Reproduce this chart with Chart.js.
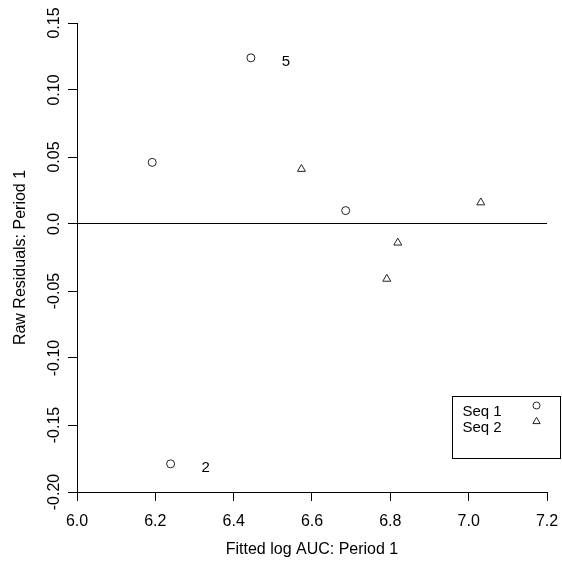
<!DOCTYPE html>
<html>
<head>
<meta charset="utf-8">
<script src="https://cdn.jsdelivr.net/npm/chart.js@4.4.0/dist/chart.umd.min.js"></script>
<style>
  html, body { margin: 0; padding: 0; background: #fff; }
  #wrap { width: 562px; height: 572px; }
</style>
</head>
<body>
<div id="wrap"><canvas id="chart" width="562" height="572"></canvas></div>
<script>
// Sequence 1 (circles)
const seq1X = [6.192, 6.239, 6.444, 6.686];
const seq1Y = [0.046, -0.179, 0.124, 0.010];
const seq1Labels = ["", "2", "5", ""];
// Sequence 2 (triangles)
const seq2X = [6.573, 6.791, 6.819, 7.031];
const seq2Y = [0.041, -0.041, -0.014, 0.016];

// horizontal reference line
const refLineY = 0;

const xTickValues = [6.0, 6.2, 6.4, 6.6, 6.8, 7.0, 7.2];
const xTickLabels = ["6.0", "6.2", "6.4", "6.6", "6.8", "7.0", "7.2"];
const yTickValues = [-0.20, -0.15, -0.10, -0.05, 0, 0.05, 0.10, 0.15];
const yTickLabels = ["-0.20", "-0.15", "-0.10", "-0.05", "0.0", "0.05", "0.10", "0.15"];

const legendLabels = ["Seq 1", "Seq 2"];
const legendStyles = ["circle", "triangle"];

const FONT = "'Liberation Sans', Arial, Helvetica, sans-serif";
const INK = "#222";

const toPoints = (xs, ys) => xs.map((x, i) => ({ x: x, y: ys[i] }));

// labels next to selected points ("2", "5")
const pointLabelPlugin = {
  id: "pointLabelPlugin",
  afterDatasetsDraw: (chart) => {
    const ctx = chart.ctx;
    const meta = chart.getDatasetMeta(0);
    ctx.save();
    ctx.font = "15px " + FONT;
    ctx.fillStyle = "#000";
    ctx.textAlign = "center";
    ctx.textBaseline = "middle";
    seq1Labels.forEach((lab, i) => {
      if (!lab) return;
      const el = meta.data[i];
      ctx.fillText(lab, el.x + 35, el.y + 4);
    });
    ctx.restore();
  },
};

// boxed legend: text left, symbol right
const boxLegendPlugin = {
  id: "boxLegendPlugin",
  afterDraw: (chart) => {
    const ctx = chart.ctx;
    const area = chart.chartArea;
    const boxX = Math.round(area.right) - 94.5;
    const boxY = 396.5;
    const boxW = 108;
    const boxH = 62;
    ctx.save();
    ctx.strokeStyle = "#000";
    ctx.lineWidth = 1;
    ctx.strokeRect(boxX, boxY, boxW, boxH);
    ctx.font = "15px " + FONT;
    ctx.textAlign = "left";
    ctx.textBaseline = "middle";
    legendLabels.forEach((lab, i) => {
      const ty = boxY + 15 + i * 16;
      ctx.fillStyle = "#000";
      ctx.fillText(lab, boxX + 10, ty);
      ctx.fillStyle = "rgba(0,0,0,0)";
      ctx.strokeStyle = INK;
      Chart.helpers.drawPoint(
        ctx,
        {
          pointStyle: legendStyles[i],
          radius: legendStyles[i] === "circle" ? 3.5 : 4.2,
          rotation: 0,
          borderWidth: 1,
        },
        boxX + 84,
        ty - 6
      );
    });
    ctx.restore();
  },
};

const ctx = document.getElementById("chart").getContext("2d");

new Chart(ctx, {
  data: {
    datasets: [
      {
        type: "scatter",
        data: toPoints(seq1X, seq1Y),
        pointStyle: "circle",
        pointRadius: 4,
        borderWidth: 1,
        borderColor: INK,
        backgroundColor: "rgba(0,0,0,0)",
      },
      {
        type: "scatter",
        data: toPoints(seq2X, seq2Y),
        pointStyle: "triangle",
        pointRadius: 4.6,
        borderWidth: 1,
        borderColor: INK,
        backgroundColor: "rgba(0,0,0,0)",
      },
    ],
  },
  options: {
    responsive: false,
    animation: false,
    devicePixelRatio: 1,
    layout: { padding: { left: 0, right: 15, top: 23, bottom: 0 } },
    plugins: {
      legend: { display: false },
      tooltip: { enabled: false },
    },
    scales: {
      x: {
        type: "linear",
        position: "bottom",
        min: 6.0,
        max: 7.2,
        afterBuildTicks: (scale) => {
          scale.ticks = xTickValues.map((v) => ({ value: v }));
        },
        afterFit: (scale) => {
          scale.height = 80;
          scale.paddingLeft = 0;
          scale.paddingRight = 0;
        },
        grid: {
          display: true,
          drawOnChartArea: false,
          drawTicks: true,
          tickLength: 9,
          color: "#000",
          lineWidth: 1,
        },
        border: { display: true, color: "#000", width: 1 },
        ticks: {
          color: "#000",
          font: { family: FONT, size: 16 },
          padding: 11,
          maxRotation: 0,
          autoSkip: false,
          callback: (value, index) => xTickLabels[index],
        },
        title: {
          display: true,
          text: "Fitted log AUC: Period 1",
          color: "#000",
          font: { family: FONT, size: 16 },
          padding: { top: 0, bottom: 13 },
        },
      },
      y: {
        type: "linear",
        position: "left",
        min: -0.2,
        max: 0.15,
        afterBuildTicks: (scale) => {
          scale.ticks = yTickValues.map((v) => ({ value: v }));
        },
        afterFit: (scale) => {
          scale.width = 77;
          scale.paddingTop = 0;
          scale.paddingBottom = 0;
        },
        grid: {
          display: true,
          drawOnChartArea: true,
          drawTicks: true,
          tickLength: 9,
          color: (c) => (c.tick && c.tick.value === refLineY ? "#000" : "rgba(0,0,0,0)"),
          tickColor: "#000",
          lineWidth: 1,
        },
        border: { display: true, color: "#000", width: 1 },
        ticks: {
          color: "#000",
          font: { family: FONT, size: 16 },
          padding: -5,
          minRotation: 90,
          maxRotation: 90,
          crossAlign: "center",
          autoSkip: false,
          callback: (value, index) => yTickLabels[index],
        },
        title: {
          display: true,
          text: "Raw Residuals: Period 1",
          color: "#000",
          font: { family: FONT, size: 16 },
          padding: { top: 11, bottom: 0 },
        },
      },
    },
  },
  plugins: [pointLabelPlugin, boxLegendPlugin],
});
</script>
</body>
</html>
